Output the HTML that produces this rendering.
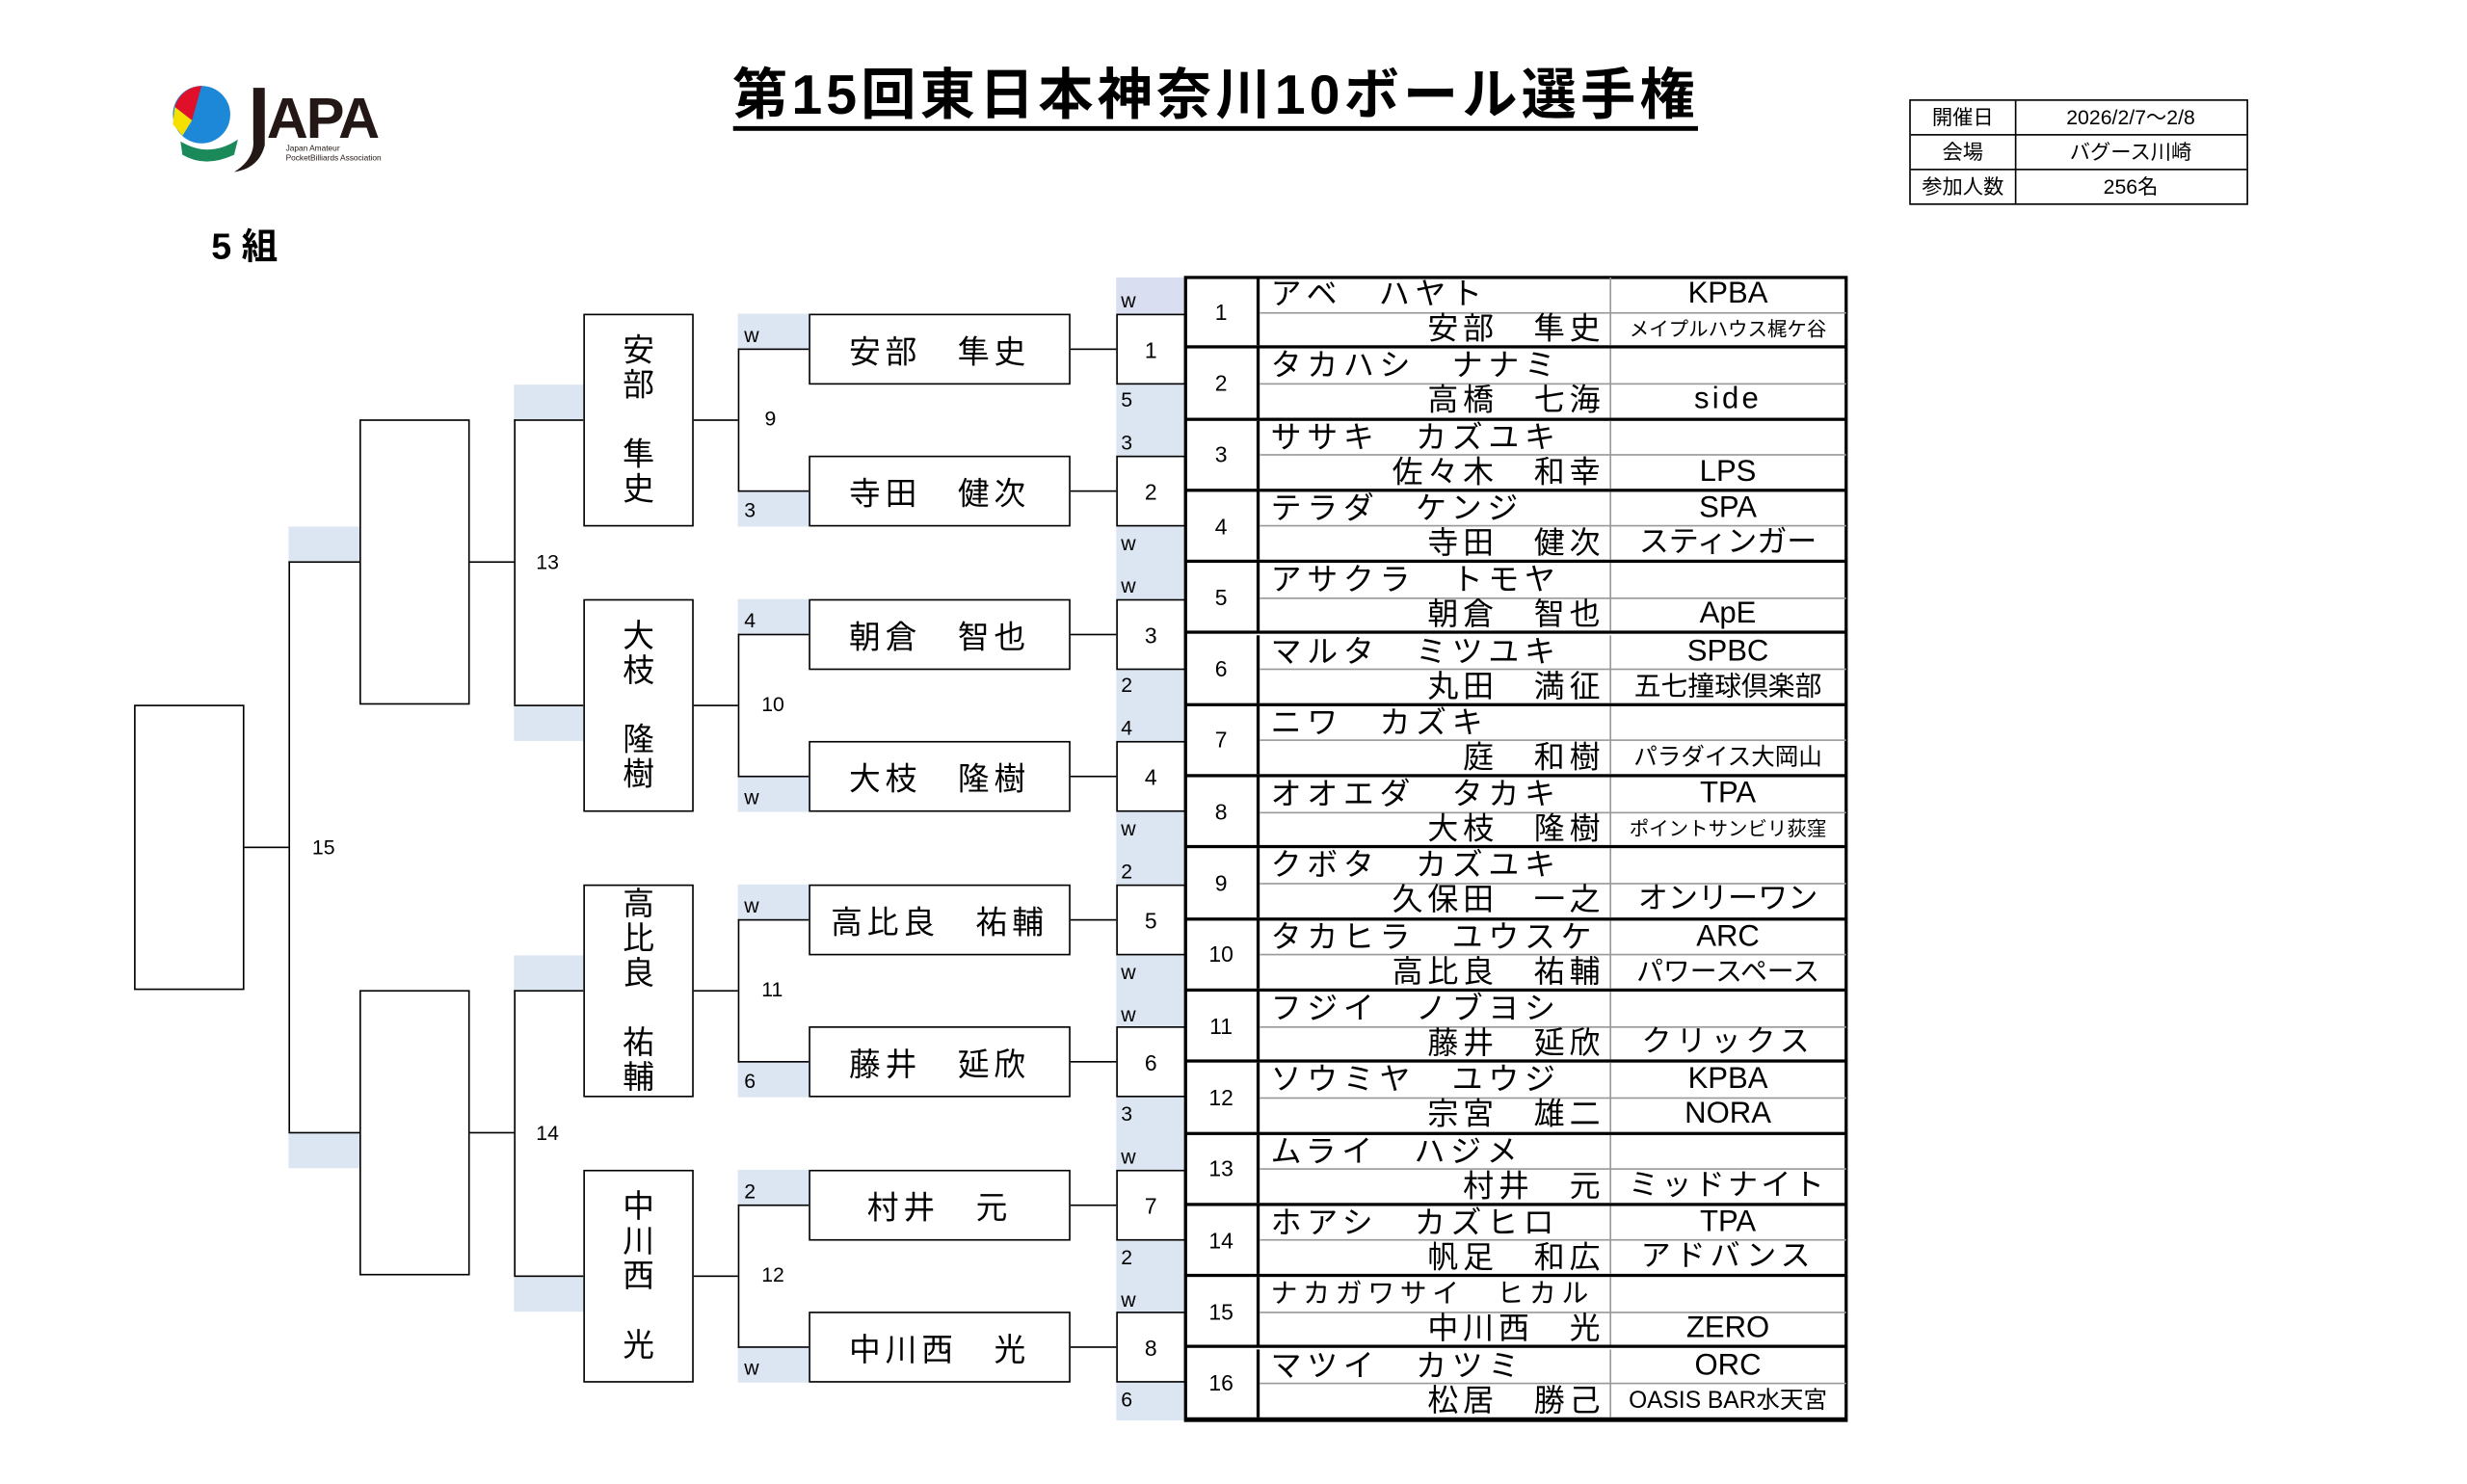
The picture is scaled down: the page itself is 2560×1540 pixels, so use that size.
<!DOCTYPE html>
<html><head><meta charset="utf-8">
<style>
html,body{margin:0;padding:0;background:#fff;}
body{width:2560px;height:1540px;overflow:hidden;position:relative;}
#w{position:absolute;left:0;top:0;width:1565px;height:941px;transform:scale(1.636);transform-origin:0 0;font-family:"Liberation Sans","Noto Sans CJK JP",sans-serif;color:#000;}
.a{position:absolute;}
.bx{position:absolute;border:1.5px solid #000;background:#fff;box-sizing:border-box;}
.bl{position:absolute;background:#dce6f2;}
.h{position:absolute;height:0;border-top:1.2px solid #000;}
.v{position:absolute;width:0;border-left:1.2px solid #000;}
.lab{position:absolute;font-size:13px;line-height:13px;}
.nm{display:flex;align-items:center;justify-content:center;font-size:20px;letter-spacing:3px;}
.vt{display:flex;flex-direction:column;align-items:center;justify-content:center;font-size:20px;line-height:22px;}
.sd{display:flex;align-items:center;justify-content:center;font-size:14px;}
.g{position:absolute;left:752px;width:419px;height:45.3px;border-bottom:2.5px solid #000;box-sizing:border-box;}
.g .n{position:absolute;left:0;top:0;width:47px;height:100%;border-right:2px solid #000;box-sizing:border-box;display:flex;align-items:center;justify-content:center;font-size:14px;}
.g .k{position:absolute;left:54px;top:0;height:22px;line-height:22px;font-size:19.5px;letter-spacing:3.5px;white-space:nowrap;}
.g .m{position:absolute;right:153px;top:22px;height:22px;line-height:22px;font-size:19.5px;letter-spacing:3px;white-space:nowrap;}
.g .c1,.g .c2{position:absolute;left:269px;width:150px;height:22px;line-height:22px;text-align:center;font-size:19px;white-space:nowrap;overflow:hidden;}
.g .c1{top:0;}
.g .c2{top:22px;}
.g .sep{position:absolute;left:47px;right:0;top:21.5px;border-top:1px solid #999;}
.g .vs{position:absolute;left:269px;top:0;bottom:0;border-left:1px solid #999;}
.s13{font-size:12.5px!important;}
.s15{font-size:15px!important;}
.s17{font-size:17px!important;}
</style></head><body><div id="w">

<!-- logo -->
<svg class="a" style="left:106px;top:48px" width="170" height="64" viewBox="0 0 140 52">
<circle cx="18" cy="20" r="15" fill="#1e88d8"/>
<path d="M18 5 A15 15 0 0 0 4 16 L13 23 Z" fill="#e0102a"/>
<path d="M4 16 L3 25 L8 31 L13 23 Z" fill="#f5e000"/>
<path d="M7 34 Q22 43 37 33 L35 41 Q20 48 8 41 Z" fill="#1a8a5a"/>
<path d="M45 6 L51 6 L51 36 Q48 48 35 50 Q46 43 45 33 Z" fill="#231815"/>
<text x="52" y="32" font-family="Liberation Sans" font-weight="bold" font-size="30" fill="#231815" letter-spacing="-1">APA</text>
<text x="62" y="39" font-family="Liberation Sans" font-size="4.2" fill="#231815">Japan Amateur</text>
<text x="62" y="44" font-family="Liberation Sans" font-size="4.2" fill="#231815">PocketBilliards Association</text>
</svg>

<div class="a" style="left:396px;top:38px;width:750px;text-align:center;font-size:35px;font-weight:bold;line-height:46px;letter-spacing:2.5px;white-space:nowrap;"><span style="border-bottom:3px solid #000;">第15回東日本神奈川10ボール選手権</span></div>

<!-- info table -->
<div class="a" style="left:1211px;top:63px;width:215px;height:67px;border:1.5px solid #000;box-sizing:border-box;font-size:13px;">
<div class="a" style="left:66px;top:0;bottom:0;border-left:1px solid #000;"></div>
<div class="a" style="left:0;right:0;top:21px;border-top:1.5px solid #000;"></div>
<div class="a" style="left:0;right:0;top:43px;border-top:1.5px solid #000;"></div>
<div class="a" style="left:0;width:66px;top:0;height:22px;line-height:22px;text-align:center;">開催日</div>
<div class="a" style="left:66px;right:0;top:0;height:22px;line-height:22px;text-align:center;">2026/2/7～2/8</div>
<div class="a" style="left:0;width:66px;top:22px;height:22px;line-height:22px;text-align:center;">会場</div>
<div class="a" style="left:66px;right:0;top:22px;height:22px;line-height:22px;text-align:center;">バグース川崎</div>
<div class="a" style="left:0;width:66px;top:44px;height:22px;line-height:22px;text-align:center;">参加人数</div>
<div class="a" style="left:66px;right:0;top:44px;height:22px;line-height:22px;text-align:center;">256名</div>
</div>

<div class="a" style="left:134px;top:137px;font-size:23px;font-weight:bold;">5 組</div>

<!-- seed column -->
<div class="bl" style="left:708px;top:176px;width:44px;height:725px;"></div>
<div class="a" style="left:708px;top:176px;width:44px;height:23px;background:#d9dff0;"></div>
<div class="bx sd" style="left:708px;top:199px;width:44px;height:45px;">1</div>
<div class="bx sd" style="left:708px;top:289px;width:44px;height:45px;">2</div>
<div class="bx sd" style="left:708px;top:380px;width:44px;height:45px;">3</div>
<div class="bx sd" style="left:708px;top:470px;width:44px;height:45px;">4</div>
<div class="bx sd" style="left:708px;top:561px;width:44px;height:45px;">5</div>
<div class="bx sd" style="left:708px;top:651px;width:44px;height:45px;">6</div>
<div class="bx sd" style="left:708px;top:742px;width:44px;height:45px;">7</div>
<div class="bx sd" style="left:708px;top:832px;width:44px;height:45px;">8</div>
<div class="lab" style="left:711px;top:184px;">w</div>
<div class="lab" style="left:711px;top:247px;">5</div>
<div class="lab" style="left:711px;top:274px;">3</div>
<div class="lab" style="left:711px;top:338px;">w</div>
<div class="lab" style="left:711px;top:365px;">w</div>
<div class="lab" style="left:711px;top:428px;">2</div>
<div class="lab" style="left:711px;top:455px;">4</div>
<div class="lab" style="left:711px;top:519px;">w</div>
<div class="lab" style="left:711px;top:546px;">2</div>
<div class="lab" style="left:711px;top:610px;">w</div>
<div class="lab" style="left:711px;top:637px;">w</div>
<div class="lab" style="left:711px;top:700px;">3</div>
<div class="lab" style="left:711px;top:727px;">w</div>
<div class="lab" style="left:711px;top:791px;">2</div>
<div class="lab" style="left:711px;top:818px;">w</div>
<div class="lab" style="left:711px;top:881px;">6</div>

<!-- connectors name->seed -->
<div class="h" style="left:679px;width:29px;top:221px;"></div>
<div class="h" style="left:679px;width:29px;top:311px;"></div>
<div class="h" style="left:679px;width:29px;top:402px;"></div>
<div class="h" style="left:679px;width:29px;top:492px;"></div>
<div class="h" style="left:679px;width:29px;top:583px;"></div>
<div class="h" style="left:679px;width:29px;top:673px;"></div>
<div class="h" style="left:679px;width:29px;top:764px;"></div>
<div class="h" style="left:679px;width:29px;top:854px;"></div>

<!-- round1 blue cells -->
<div class="bl" style="left:468px;top:199px;width:45px;height:22px;"></div>
<div class="bl" style="left:468px;top:312px;width:45px;height:22px;"></div>
<div class="bl" style="left:468px;top:380px;width:45px;height:22px;"></div>
<div class="bl" style="left:468px;top:493px;width:45px;height:22px;"></div>
<div class="bl" style="left:468px;top:561px;width:45px;height:22px;"></div>
<div class="bl" style="left:468px;top:674px;width:45px;height:22px;"></div>
<div class="bl" style="left:468px;top:742px;width:45px;height:22px;"></div>
<div class="bl" style="left:468px;top:855px;width:45px;height:22px;"></div>
<div class="lab" style="left:472px;top:206px;">w</div>
<div class="lab" style="left:472px;top:317px;">3</div>
<div class="lab" style="left:472px;top:387px;">4</div>
<div class="lab" style="left:472px;top:499px;">w</div>
<div class="lab" style="left:472px;top:568px;">w</div>
<div class="lab" style="left:472px;top:679px;">6</div>
<div class="lab" style="left:472px;top:749px;">2</div>
<div class="lab" style="left:472px;top:861px;">w</div>

<!-- round1 brackets -->
<div class="v" style="left:468px;top:221px;height:91px;"></div>
<div class="h" style="left:468px;width:45px;top:221px;"></div><div class="h" style="left:468px;width:45px;top:311px;"></div>
<div class="h" style="left:440px;width:28px;top:266px;"></div>
<div class="lab" style="left:485px;top:259px;">9</div>
<div class="v" style="left:468px;top:402px;height:91px;"></div>
<div class="h" style="left:468px;width:45px;top:402px;"></div><div class="h" style="left:468px;width:45px;top:492px;"></div>
<div class="h" style="left:440px;width:28px;top:447px;"></div>
<div class="lab" style="left:483px;top:440px;">10</div>
<div class="v" style="left:468px;top:583px;height:91px;"></div>
<div class="h" style="left:468px;width:45px;top:583px;"></div><div class="h" style="left:468px;width:45px;top:673px;"></div>
<div class="h" style="left:440px;width:28px;top:628px;"></div>
<div class="lab" style="left:483px;top:621px;">11</div>
<div class="v" style="left:468px;top:764px;height:91px;"></div>
<div class="h" style="left:468px;width:45px;top:764px;"></div><div class="h" style="left:468px;width:45px;top:854px;"></div>
<div class="h" style="left:440px;width:28px;top:809px;"></div>
<div class="lab" style="left:483px;top:802px;">12</div>

<!-- round1 name boxes -->
<div class="bx nm" style="left:513px;top:199px;width:166px;height:45px;">安部　隼史</div>
<div class="bx nm" style="left:513px;top:289px;width:166px;height:45px;">寺田　健次</div>
<div class="bx nm" style="left:513px;top:380px;width:166px;height:45px;">朝倉　智也</div>
<div class="bx nm" style="left:513px;top:470px;width:166px;height:45px;">大枝　隆樹</div>
<div class="bx nm" style="left:513px;top:561px;width:166px;height:45px;">高比良　祐輔</div>
<div class="bx nm" style="left:513px;top:651px;width:166px;height:45px;">藤井　延欣</div>
<div class="bx nm" style="left:513px;top:742px;width:166px;height:45px;">村井　元</div>
<div class="bx nm" style="left:513px;top:832px;width:166px;height:45px;">中川西　光</div>

<!-- round2 -->
<div class="bl" style="left:326px;top:244px;width:44px;height:22px;"></div>
<div class="bl" style="left:326px;top:448px;width:44px;height:22px;"></div>
<div class="bl" style="left:326px;top:606px;width:44px;height:22px;"></div>
<div class="bl" style="left:326px;top:810px;width:44px;height:22px;"></div>
<div class="v" style="left:326px;top:266px;height:181px;"></div>
<div class="h" style="left:326px;width:44px;top:266px;"></div><div class="h" style="left:326px;width:44px;top:447px;"></div>
<div class="h" style="left:298px;width:28px;top:356px;"></div>
<div class="lab" style="left:340px;top:350px;">13</div>
<div class="v" style="left:326px;top:628px;height:181px;"></div>
<div class="h" style="left:326px;width:44px;top:628px;"></div><div class="h" style="left:326px;width:44px;top:809px;"></div>
<div class="h" style="left:298px;width:28px;top:718px;"></div>
<div class="lab" style="left:340px;top:712px;">14</div>
<div class="bx vt" style="left:370px;top:199px;width:70px;height:135px;"><span>安</span><span>部</span><span>&nbsp;</span><span>隼</span><span>史</span></div>
<div class="bx vt" style="left:370px;top:380px;width:70px;height:135px;"><span>大</span><span>枝</span><span>&nbsp;</span><span>隆</span><span>樹</span></div>
<div class="bx vt" style="left:370px;top:561px;width:70px;height:135px;"><span>高</span><span>比</span><span>良</span><span>&nbsp;</span><span>祐</span><span>輔</span></div>
<div class="bx vt" style="left:370px;top:742px;width:70px;height:135px;"><span>中</span><span>川</span><span>西</span><span>&nbsp;</span><span>光</span></div>

<!-- round3 -->
<div class="bl" style="left:183px;top:334px;width:45px;height:22px;"></div>
<div class="bl" style="left:183px;top:719px;width:45px;height:22px;"></div>
<div class="v" style="left:183px;top:356px;height:362px;"></div>
<div class="h" style="left:183px;width:45px;top:356px;"></div><div class="h" style="left:183px;width:45px;top:718px;"></div>
<div class="h" style="left:155px;width:28px;top:537px;"></div>
<div class="lab" style="left:198px;top:531px;">15</div>
<div class="bx" style="left:228px;top:266px;width:70px;height:181px;"></div>
<div class="bx" style="left:228px;top:628px;width:70px;height:181px;"></div>
<div class="bx" style="left:85px;top:447px;width:70px;height:181px;"></div>

<!-- main table -->
<div class="a" style="left:751px;top:175px;width:421px;height:727px;border:2.5px solid #000;box-sizing:border-box;"></div>
<div class="g" style="top:176px"><div class="n">1</div><div class="sep"></div><div class="vs"></div><div class="k">アベ　ハヤト</div><div class="m">安部　隼史</div><div class="c1">KPBA</div><div class="c2 s13">メイプルハウス梶ケ谷</div></div>
<div class="g" style="top:221.3px"><div class="n">2</div><div class="sep"></div><div class="vs"></div><div class="k">タカハシ　ナナミ</div><div class="m">高橋　七海</div><div class="c1"></div><div class="c2" style="letter-spacing:2px">side</div></div>
<div class="g" style="top:266.6px"><div class="n">3</div><div class="sep"></div><div class="vs"></div><div class="k">ササキ　カズユキ</div><div class="m">佐々木　和幸</div><div class="c1"></div><div class="c2">LPS</div></div>
<div class="g" style="top:311.9px"><div class="n">4</div><div class="sep"></div><div class="vs"></div><div class="k">テラダ　ケンジ</div><div class="m">寺田　健次</div><div class="c1">SPA</div><div class="c2">スティンガー</div></div>
<div class="g" style="top:357.2px"><div class="n">5</div><div class="sep"></div><div class="vs"></div><div class="k">アサクラ　トモヤ</div><div class="m">朝倉　智也</div><div class="c1"></div><div class="c2">ApE</div></div>
<div class="g" style="top:402.5px"><div class="n">6</div><div class="sep"></div><div class="vs"></div><div class="k">マルタ　ミツユキ</div><div class="m">丸田　満征</div><div class="c1">SPBC</div><div class="c2 s17">五七撞球倶楽部</div></div>
<div class="g" style="top:447.8px"><div class="n">7</div><div class="sep"></div><div class="vs"></div><div class="k">ニワ　カズキ</div><div class="m">庭　和樹</div><div class="c1"></div><div class="c2 s15">パラダイス大岡山</div></div>
<div class="g" style="top:493.1px"><div class="n">8</div><div class="sep"></div><div class="vs"></div><div class="k">オオエダ　タカキ</div><div class="m">大枝　隆樹</div><div class="c1">TPA</div><div class="c2 s13">ポイントサンビリ荻窪</div></div>
<div class="g" style="top:538.4px"><div class="n">9</div><div class="sep"></div><div class="vs"></div><div class="k">クボタ　カズユキ</div><div class="m">久保田　一之</div><div class="c1"></div><div class="c2">オンリーワン</div></div>
<div class="g" style="top:583.7px"><div class="n">10</div><div class="sep"></div><div class="vs"></div><div class="k">タカヒラ　ユウスケ</div><div class="m">高比良　祐輔</div><div class="c1">ARC</div><div class="c2 s17">パワースペース</div></div>
<div class="g" style="top:629px"><div class="n">11</div><div class="sep"></div><div class="vs"></div><div class="k">フジイ　ノブヨシ</div><div class="m">藤井　延欣</div><div class="c1"></div><div class="c2" style="letter-spacing:3px">クリックス</div></div>
<div class="g" style="top:674.3px"><div class="n">12</div><div class="sep"></div><div class="vs"></div><div class="k">ソウミヤ　ユウジ</div><div class="m">宗宮　雄二</div><div class="c1">KPBA</div><div class="c2">NORA</div></div>
<div class="g" style="top:719.6px"><div class="n">13</div><div class="sep"></div><div class="vs"></div><div class="k">ムライ　ハジメ</div><div class="m">村井　元</div><div class="c1"></div><div class="c2" style="letter-spacing:2px">ミッドナイト</div></div>
<div class="g" style="top:764.9px"><div class="n">14</div><div class="sep"></div><div class="vs"></div><div class="k">ホアシ　カズヒロ</div><div class="m">帆足　和広</div><div class="c1">TPA</div><div class="c2" style="letter-spacing:3px">アドバンス</div></div>
<div class="g" style="top:810.2px"><div class="n">15</div><div class="sep"></div><div class="vs"></div><div class="k" style="font-size:17px">ナカガワサイ　ヒカル</div><div class="m">中川西　光</div><div class="c1"></div><div class="c2">ZERO</div></div>
<div class="g" style="top:855.5px"><div class="n">16</div><div class="sep"></div><div class="vs"></div><div class="k">マツイ　カツミ</div><div class="m">松居　勝己</div><div class="c1">ORC</div><div class="c2 s15">OASIS BAR水天宮</div></div>

</div></body></html>
